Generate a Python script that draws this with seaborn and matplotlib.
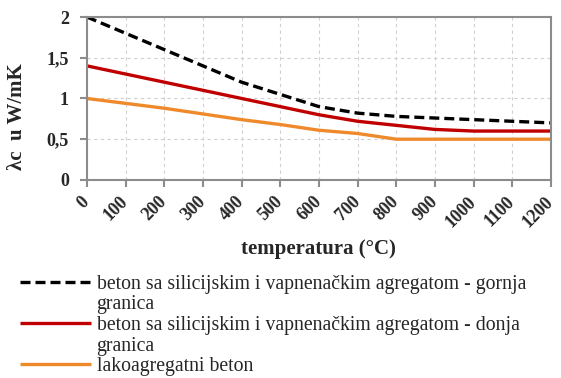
import matplotlib
matplotlib.use("Agg")
import matplotlib.pyplot as plt
from matplotlib.lines import Line2D
import seaborn as sns
import pandas as pd
from matplotlib.ticker import FuncFormatter

temperature = [0, 100, 200, 300, 400, 500, 600, 700, 800, 900, 1000, 1100, 1200]
upper_limit = [2.0, 1.8, 1.6, 1.4, 1.2, 1.05, 0.9, 0.82, 0.78, 0.76, 0.74, 0.72, 0.70]
lower_limit = [1.4, 1.3, 1.2, 1.1, 1.0, 0.9, 0.8, 0.72, 0.67, 0.62, 0.60, 0.60, 0.60]
lightweight = [1.0, 0.94, 0.88, 0.81, 0.74, 0.68, 0.61, 0.57, 0.50, 0.50, 0.50, 0.50, 0.50]

series_names = [
    "beton sa silicijskim i vapnenačkim agregatom - gornja granica",
    "beton sa silicijskim i vapnenačkim agregatom - donja granica",
    "lakoagregatni beton",
]
colors = ["#000000", "#C00000", "#EE8A2C"]
dashes = [(3, 1.5), None, None]

df = pd.DataFrame({"temperatura": temperature * 3,
                   "lambda": upper_limit + lower_limit + lightweight,
                   "serija": sum([[n] * len(temperature) for n in series_names], [])})

sns.set_theme(style="white")
plt.rcParams["font.family"] = ["Liberation Serif", "DejaVu Serif"]

fig = plt.figure(figsize=(5.61, 3.78), dpi=100)
ax = fig.add_axes([0.155, 0.524, 0.827, 0.431])

handles = []
for name, col, ds in zip(series_names, colors, dashes):
    sub = df[df["serija"] == name]
    sns.lineplot(data=sub, x="temperatura", y="lambda", ax=ax, color=col,
                 linewidth=2.4, legend=False)
    ln = ax.lines[-1]
    ln.set_solid_capstyle("butt")
    if ds:
        ln.set_dashes(ds)
    handles.append(ln)

ax.set_xlim(0, 1200)
ax.set_ylim(0, 2)
ax.set_xticks(temperature)
ax.set_yticks([0, 0.5, 1, 1.5, 2])
ax.yaxis.set_major_formatter(FuncFormatter(lambda v, p: f"{v:g}".replace(".", ",")))
ax.grid(True, color="#d0d0d0", linestyle=(0, (3, 3)), linewidth=0.8)
for s in ax.spines.values():
    s.set_color("#8c8c8c")
    s.set_linewidth(1.5)
ax.tick_params(axis="y", length=5, width=1.5, color="#8c8c8c", direction="out",
               left=True, labelsize=13, pad=8)
ax.tick_params(axis="x", length=5, width=1.5, color="#8c8c8c", direction="out",
               bottom=True, labelsize=13, pad=9)
for t in ax.get_xticklabels():
    t.set_rotation(45)
    t.set_ha("right")
    t.set_va("center")
    t.set_rotation_mode("anchor")
    t.set_fontweight("bold")
for t in ax.get_yticklabels():
    t.set_fontweight("bold")
ax.set_xlabel("temperatura (°C)", fontsize=15, fontweight="bold", labelpad=6)
ax.set_ylabel("λc  u W/mK", fontsize=15, fontweight="bold")
ax.yaxis.set_label_coords(-0.130, 0.39)

# Long labels wrap onto a second row, like the original legend
blank = Line2D([], [], linestyle="none")
leg_handles = [handles[0], blank, handles[1], blank, handles[2]]
leg_labels = ["beton sa silicijskim i vapnenačkim agregatom - gornja", "granica",
              "beton sa silicijskim i vapnenačkim agregatom - donja", "granica",
              "lakoagregatni beton"]
fig.legend(leg_handles, leg_labels, loc="upper left", bbox_to_anchor=(0.035, 0.2735),
           bbox_transform=fig.transFigure, frameon=False, fontsize=14.2,
           handlelength=3.6, handletextpad=0.3, labelspacing=0.085,
           borderpad=0, borderaxespad=0)

fig.savefig("out.png", dpi=100)
